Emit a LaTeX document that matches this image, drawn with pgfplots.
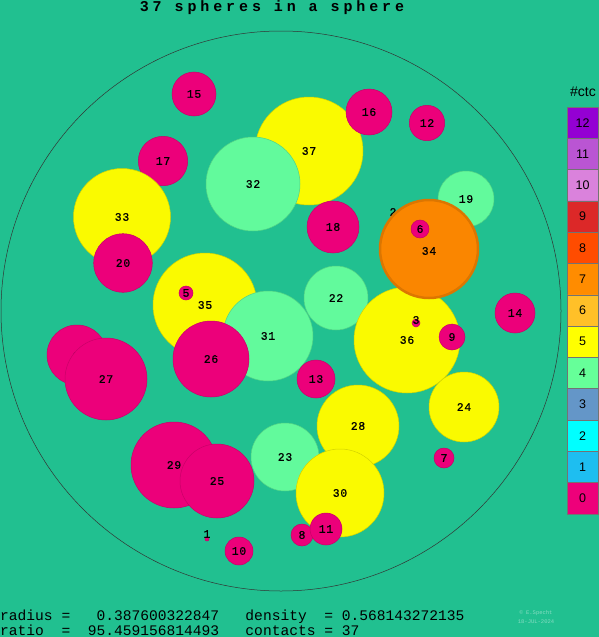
\documentclass[border=0pt]{standalone}
\usepackage{pgfplots}
\pgfplotsset{compat=1.18}
\usepackage{fontspec}
\setmainfont{Liberation Sans}
\newfontfamily\mono{Liberation Mono}
\newfontfamily\labmono[FakeBold=0.8, LetterSpace=6]{Liberation Mono}
\newfontfamily\titlemono[LetterSpace=26]{Liberation Mono}

\definecolor{bg}{RGB}{33,192,144}
\definecolor{cpink}{RGB}{236,0,122}
\definecolor{cyel}{RGB}{250,250,0}
\definecolor{cgreen}{RGB}{98,250,156}
\definecolor{corange}{RGB}{250,134,0}
\definecolor{k12}{RGB}{148,0,211}
\definecolor{k11}{RGB}{186,85,211}
\definecolor{k10}{RGB}{218,130,220}
\definecolor{k9}{RGB}{220,40,40}
\definecolor{k8}{RGB}{255,76,0}
\definecolor{k7}{RGB}{255,140,0}
\definecolor{k6}{RGB}{255,192,40}
\definecolor{k5}{RGB}{255,255,0}
\definecolor{k4}{RGB}{102,255,153}
\definecolor{k3}{RGB}{100,150,200}
\definecolor{k2}{RGB}{0,255,255}
\definecolor{k1}{RGB}{30,190,240}
\definecolor{k0}{RGB}{238,0,122}

\newcommand{\labfont}{\labmono\fontsize{11.5}{12}\selectfont}
% sphere only: {x,y}, r, color
\newcommand{\sph}[3]{%
  \addplot[only marks, mark=*, mark size=#2pt,
    mark options={fill=#3, draw=#3!85!black, line width=0.5pt}]
    coordinates {(#1)};
}
% label, {x,y}, r, color
\newcommand{\ball}[4]{%
  \sph{#2}{#3}{#4}
  \node[font=\labfont, inner sep=0pt] at (axis cs:#2) {#1};
}
% colour box: value, top, bottom, middle
\newcommand{\cbox}[4]{%
  \addplot[fill=k#1, draw=black!55, line width=0.5pt]
    coordinates {(567,#2) (598,#2) (598,#3) (567,#3) (567,#2)};
  \node[font=\fontsize{12.5}{13}\selectfont, inner sep=0pt] at (axis cs:582.5,#4) {#1};
}

\begin{document}
\begin{tikzpicture}
\begin{axis}[
  x=1pt, y=1pt,
  xmin=0, xmax=599, ymin=0, ymax=637,
  y dir=reverse,
  hide axis, scale only axis, clip=false,
  clip mode=individual,
]
\addplot[fill=bg, draw=none] coordinates {(0,0) (599,0) (599,637) (0,637) (0,0)};
% big enclosing circle
\addplot[only marks, mark=o, mark size=280pt, mark options={draw=black!80, line width=0.5pt}] coordinates {(281,311)};

\node[font=\titlemono\bfseries\fontsize{15}{16}\selectfont, inner sep=0pt] at (axis cs:272,8) {37 spheres in a sphere};

% spheres, back to front
\sph{207,539}{2}{cpink}
\node[font=\labfont, inner sep=0pt] at (axis cs:207,534) {1};
\node[font=\labfont, inner sep=0pt] at (axis cs:393,212) {2};
\sph{77,355}{30}{cpink}
\node[font=\labfont, inner sep=0pt] at (axis cs:80,356) {21};
\ball{27}{106,379}{41}{cpink}
\ball{15}{194,94}{22}{cpink}
\ball{17}{163,161}{24.7}{cpink}
\ball{12}{427,123}{17.7}{cpink}
\ball{14}{515,313}{20}{cpink}
\ball{37}{309,151}{54}{cyel}
\ball{16}{369,112}{23}{cpink}
\ball{32}{253,184}{47}{cgreen}
\ball{18}{333,227}{26}{cpink}
\ball{33}{122,217}{48.5}{cyel}
\ball{20}{123,263}{29.3}{cpink}
\ball{35}{205,305}{52}{cyel}
\ball{5}{186,293}{7}{cpink}
\ball{22}{336,298}{32}{cgreen}
\ball{31}{268,336}{45}{cgreen}
\ball{26}{211,359}{38}{cpink}
\ball{13}{316,379}{19}{cpink}
\ball{19}{466,199}{28}{cgreen}
\ball{36}{407,340}{53}{cyel}
% orange sphere with darker rim
\addplot[only marks, mark=*, mark size=49pt,
  mark options={fill=corange, draw=corange!88!black, line width=2.5pt}]
  coordinates {(429,249)};
\node[font=\labfont, inner sep=0pt] at (axis cs:429,251) {34};
\ball{6}{420,229}{9}{cpink}
\sph{416,323}{4}{cpink}
\node[font=\labfont, inner sep=0pt] at (axis cs:416,320) {3};
\ball{9}{452,337}{13}{cpink}
\ball{24}{464,407}{35}{cyel}
\ball{7}{444,458}{10}{cpink}
\ball{28}{358,426}{41}{cyel}
\ball{23}{285,457}{34}{cgreen}
\ball{30}{340,493}{44}{cyel}
\ball{8}{302,535}{11}{cpink}
\ball{11}{326,529}{16}{cpink}
\ball{29}{174,465}{43}{cpink}
\ball{25}{217,481}{37}{cpink}
\ball{10}{239,551}{14}{cpink}

% colour legend
\node[font=\fontsize{14}{15}\selectfont, inner sep=0pt] at (axis cs:583,92) {\#ctc};
\cbox{12}{107}{138.3}{122.65}
\cbox{11}{138.3}{169.6}{153.95}
\cbox{10}{169.6}{200.9}{185.25}
\cbox{9}{200.9}{232.2}{216.55}
\cbox{8}{232.2}{263.5}{247.85}
\cbox{7}{263.5}{294.8}{279.15}
\cbox{6}{294.8}{326.1}{310.45}
\cbox{5}{326.1}{357.4}{341.75}
\cbox{4}{357.4}{388.7}{373.05}
\cbox{3}{388.7}{420.0}{404.35}
\cbox{2}{420.0}{451.3}{435.65}
\cbox{1}{451.3}{482.6}{466.95}
\cbox{0}{482.6}{513.9}{498.25}

% footer
\node[font=\mono\fontsize{14.6}{15}\selectfont, anchor=base west, inner sep=0pt] at (axis cs:0,620)
  {radius =\ \ \ 0.387600322847\ \ \ density\ \ = 0.568143272135};
\node[font=\mono\fontsize{14.6}{15}\selectfont, anchor=base west, inner sep=0pt] at (axis cs:0,635)
  {ratio\ \ =\ \ 95.459156814493\ \ \ contacts = 37};
\node[font=\mono\fontsize{5.5}{6}\selectfont, text=bg!55!white, inner sep=0pt] at (axis cs:536,613) {\textcopyright\ E.Specht};
\node[font=\mono\fontsize{5.5}{6}\selectfont, text=bg!55!white, inner sep=0pt] at (axis cs:536,622) {18-JUL-2024};
\end{axis}
\end{tikzpicture}
\end{document}
